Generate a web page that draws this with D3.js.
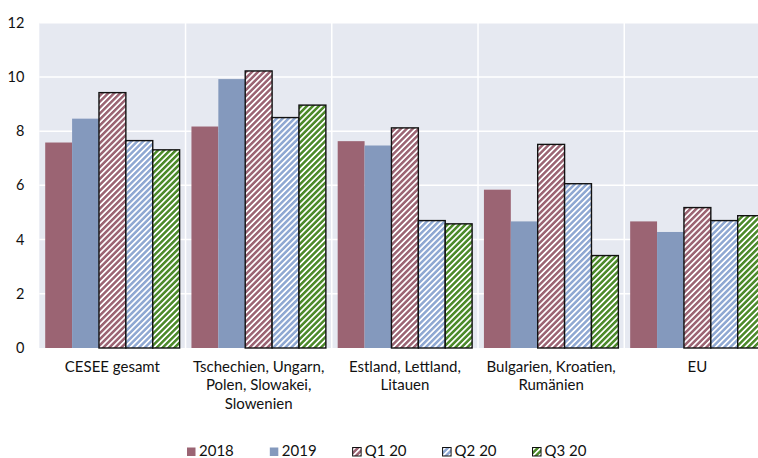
<!DOCTYPE html>
<html><head><meta charset="utf-8">
<script src="https://cdn.jsdelivr.net/npm/d3@7"></script>
<style>
html,body{margin:0;padding:0;background:#fff;}
svg{display:block;font-family:Lato,"Open Sans",sans-serif;}
</style></head>
<body>
<svg id="chart" width="758" height="458"></svg>
<script>
const categories = ["CESEE gesamt", "Tschechien, Ungarn, Polen, Slowakei, Slowenien", "Estland, Lettland, Litauen", "Bulgarien, Kroatien, Rumänien", "EU"];
const categoryLines = [["CESEE gesamt"], ["Tschechien, Ungarn,", "Polen, Slowakei,", "Slowenien"], ["Estland, Lettland,", "Litauen"], ["Bulgarien, Kroatien,", "Rumänien"], ["EU"]];
const seriesNames = ["2018", "2019", "Q1 20", "Q2 20", "Q3 20"];
const v2018 = [7.58, 8.17, 7.63, 5.84, 4.67];
const v2019 = [8.46, 9.92, 7.47, 4.67, 4.28];
const vQ1 = [9.42, 10.22, 8.12, 7.51, 5.18];
const vQ2 = [7.65, 8.5, 4.7, 6.06, 4.7];
const vQ3 = [7.31, 8.96, 4.58, 3.41, 4.88];
const yTicks = [0, 2, 4, 6, 8, 10, 12];

const seriesValues = [v2018, v2019, vQ1, vQ2, vQ3];
const colors = ["#9b6473", "#8499bd", "#9b6473", "#8fa8d2", "#4c8a2a"];
const hatched = [false, false, true, true, true];

const svg = d3.select("#chart");
const defs = svg.append("defs");
seriesNames.forEach((s, i) => {
  if (!hatched[i]) return;
  const p = defs.append("pattern").attr("id", "hatch" + i)
    .attr("patternUnits", "userSpaceOnUse").attr("width", 4.2).attr("height", 4.2)
    .attr("patternTransform", "rotate(45)");
  p.append("rect").attr("width", 4.2).attr("height", 4.2).attr("fill", "#fff");
  p.append("rect").attr("width", 2.5).attr("height", 4.2).attr("fill", colors[i]);
});
const fillFor = i => hatched[i] ? `url(#hatch${i})` : colors[i];

const mLeft = 39.3, mRight = 770.5, mTop = 22.7, mBottom = 348;
const x0 = d3.scaleBand().domain(categories).range([mLeft, mRight]).padding(0);
const x1 = d3.scaleBand().domain(seriesNames).range([0, x0.bandwidth()]).paddingInner(0).paddingOuter(0.22);
const y = d3.scaleLinear().domain([0, 12]).range([mBottom, mTop]);

// plot background
svg.append("rect").attr("x", mLeft).attr("y", mTop).attr("width", mRight - mLeft).attr("height", mBottom - mTop).attr("fill", "#e6e9f1");

// y axis labels
const yAxis = d3.axisLeft(y).tickValues(yTicks).tickSize(0).tickPadding(15);
const gy = svg.append("g").attr("transform", `translate(${mLeft},0)`).call(yAxis);
gy.select(".domain").remove();
gy.selectAll("text").attr("font-size", 14.5).attr("fill", "#111").attr("font-family", "Lato, sans-serif");
// horizontal grid
svg.append("g").selectAll("line").data(yTicks.filter(t => t > 0)).join("line")
  .attr("x1", mLeft).attr("x2", mRight).attr("y1", d => y(d)).attr("y2", d => y(d))
  .attr("stroke", "#fff").attr("stroke-width", 1.5);
// vertical separators
svg.append("g").selectAll("line").data(categories.slice(1)).join("line")
  .attr("x1", d => x0(d)).attr("x2", d => x0(d)).attr("y1", mTop).attr("y2", mBottom)
  .attr("stroke", "#fff").attr("stroke-width", 1.5);

// bars
const groups = svg.append("g").selectAll("g").data(categories).join("g")
  .attr("transform", d => `translate(${x0(d)},0)`);
groups.selectAll("rect").data((d, ci) => seriesNames.map((s, si) => ({s, si, v: seriesValues[si][ci]}))).join("rect")
  .attr("x", d => x1(d.s)).attr("width", x1.bandwidth())
  .attr("y", d => y(d.v)).attr("height", d => y(0) - y(d.v))
  .attr("fill", d => fillFor(d.si))
  .attr("stroke", d => hatched[d.si] ? "#111" : "none")
  .attr("stroke-width", 1.4);

// category labels
svg.append("g").selectAll("text").data(categories).join("text")
  .attr("x", d => x0(d) + x0.bandwidth() / 2).attr("y", 372)
  .attr("text-anchor", "middle").attr("font-size", 15).attr("fill", "#111")
  .each(function(d, i) {
    const t = d3.select(this);
    categoryLines[i].forEach((ln, k) => {
      t.append("tspan").attr("x", x0(d) + x0.bandwidth() / 2).attr("dy", k === 0 ? 0 : 18.4).text(ln);
    });
  });

// legend
const legend = svg.append("g").attr("transform", "translate(187,0)");
let lx = 0;
seriesNames.forEach((s, i) => {
  const g = legend.append("g").attr("transform", `translate(${lx},0)`);
  g.append("rect").attr("x", 0).attr("y", 447.5).attr("width", 8.5).attr("height", 8.5)
    .attr("fill", fillFor(i)).attr("stroke", hatched[i] ? "#111" : "none").attr("stroke-width", 1);
  const t = g.append("text").attr("x", 12).attr("y", 456).attr("font-size", 15).attr("fill", "#111").text(s);
  const w = t.node().getComputedTextLength();
  lx += 12 + w + 36;
});
</script>
</body></html>
